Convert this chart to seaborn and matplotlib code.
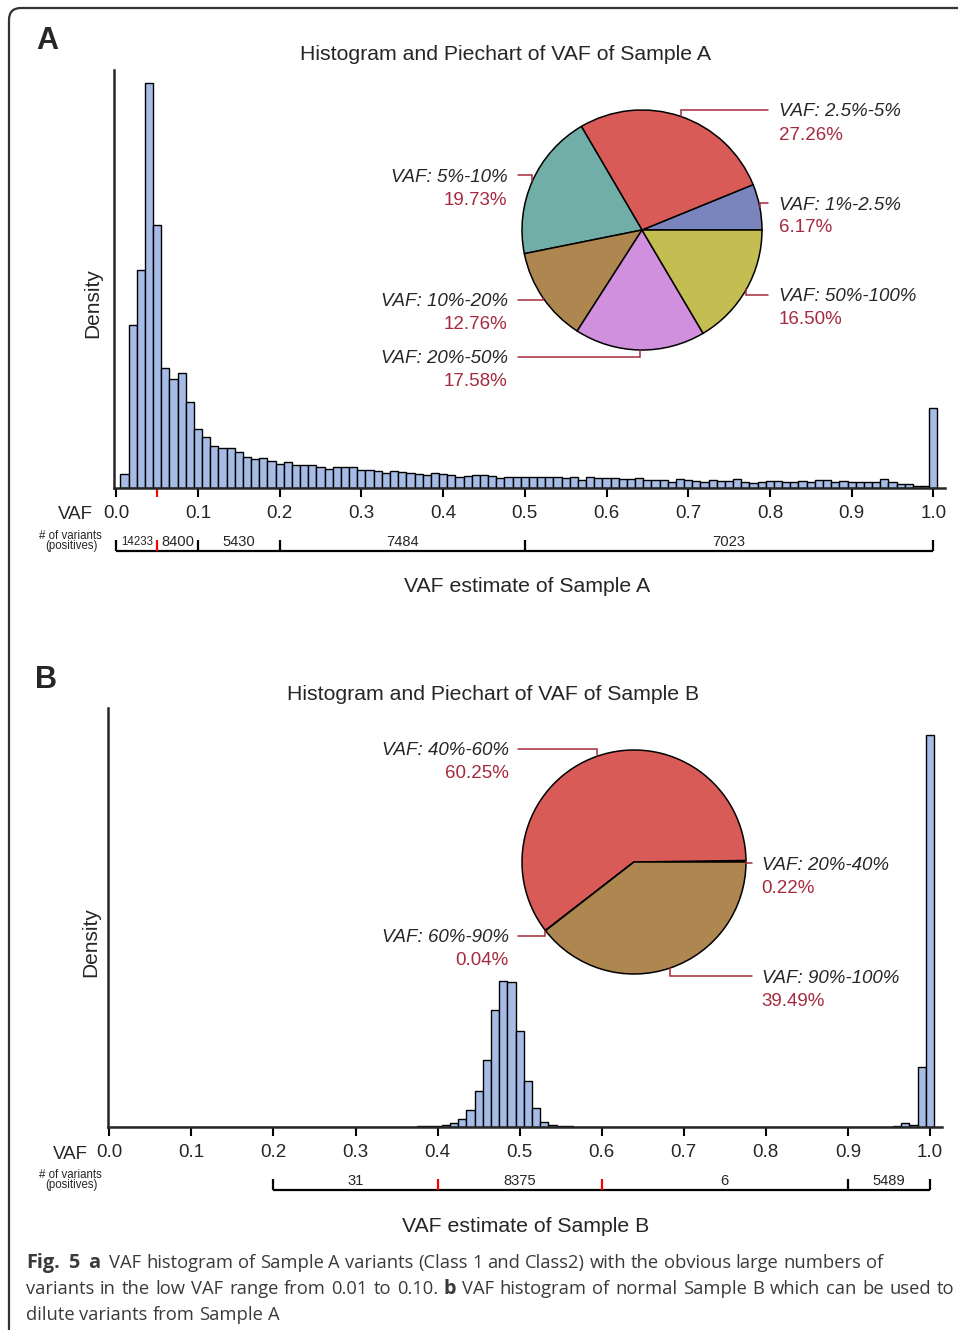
import numpy as np
import pandas as pd
import matplotlib
matplotlib.use("Agg")
import matplotlib.pyplot as plt
import seaborn as sns
from matplotlib.patches import FancyBboxPatch
from matplotlib.transforms import IdentityTransform

W, H = 958, 1330

# Sample A: density per 0.01 VAF bin, bin centres 0.01 ... 1.00
vaf_a = np.round(np.arange(1, 101) / 100, 2)
dens_a = [0.48, 5.81, 7.79, 14.46, 9.37, 4.28, 3.87, 4.09, 3.05, 2.10,
          1.80, 1.50, 1.43, 1.41, 1.29, 1.11, 1.04, 1.07, 0.95, 0.85,
          0.91, 0.81, 0.81, 0.81, 0.73, 0.68, 0.75, 0.75, 0.73, 0.63,
          0.63, 0.61, 0.51, 0.61, 0.57, 0.54, 0.48, 0.45, 0.51, 0.48,
          0.45, 0.39, 0.42, 0.45, 0.45, 0.42, 0.34, 0.37, 0.39, 0.37,
          0.37, 0.39, 0.37, 0.39, 0.34, 0.39, 0.28, 0.37, 0.36, 0.36,
          0.34, 0.32, 0.30, 0.36, 0.28, 0.28, 0.28, 0.21, 0.31, 0.28,
          0.24, 0.21, 0.28, 0.25, 0.25, 0.30, 0.21, 0.18, 0.21, 0.25,
          0.24, 0.21, 0.21, 0.25, 0.21, 0.28, 0.28, 0.19, 0.24, 0.21,
          0.19, 0.19, 0.21, 0.30, 0.19, 0.13, 0.12, 0.06, 0.06, 2.86]

# Sample B: only bins that hold variants
vaf_b = [0.38, 0.39, 0.40, 0.41, 0.42, 0.43, 0.44, 0.45, 0.46, 0.47,
         0.48, 0.49, 0.50, 0.51, 0.52, 0.53, 0.54, 0.55, 0.56,
         0.96, 0.97, 0.98, 0.99, 1.00]
dens_b = [0.03, 0.04, 0.09, 0.17, 0.32, 0.69, 1.46, 3.06, 5.72, 10.01,
          12.46, 12.38, 8.21, 3.95, 1.60, 0.43, 0.12, 0.04, 0.02,
          0.04, 0.29, 0.15, 5.15, 33.62]

# number of variants between brackets
breaks_a = [0.0, 0.05, 0.1, 0.2, 0.5, 1.0]
counts_a = ["14233", "8400", "5430", "7484", "7023"]
red_a = [0.05]
breaks_b = [0.2, 0.4, 0.6, 0.9, 1.0]
counts_b = ["31", "8375", "6", "5489"]
red_b = [0.4, 0.6]

# pie charts
pie_lab_a = ["VAF: 1%-2.5%", "VAF: 2.5%-5%", "VAF: 5%-10%",
             "VAF: 10%-20%", "VAF: 20%-50%", "VAF: 50%-100%"]
pie_pct_a = [6.17, 27.26, 19.73, 12.76, 17.58, 16.50]
pie_col_a = ["#7a84bd", "#d95b58", "#72aea8", "#ae8650", "#d190de", "#c4bd52"]
pie_lab_b = ["VAF: 20%-40%", "VAF: 40%-60%", "VAF: 60%-90%", "VAF: 90%-100%"]
pie_pct_b = [0.22, 60.25, 0.04, 39.49]
pie_col_b = ["#7a84bd", "#d95b58", "#72aea8", "#ae8650"]

# label placement (pie radius units) and side
lab_y_a = [0.225, 1.0, 0.458, -0.583, -1.058, -0.54]
side_a = [1, 1, -1, -1, -1, 1]
lab_y_b = [-0.01, 1.009, -0.66, -1.018]
side_b = [1, -1, -1, 1]

caption = [
    [("Fig.", "bold"), ("5", "bold"), ("a", "bold"), ("VAF", "normal"), ("histogram", "normal"),
     ("of", "normal"), ("Sample", "normal"), ("A", "normal"), ("variants", "normal"),
     ("(Class", "normal"), ("1", "normal"), ("and", "normal"), ("Class2)", "normal"),
     ("with", "normal"), ("the", "normal"), ("obvious", "normal"), ("large", "normal"),
     ("numbers", "normal"), ("of", "normal")],
    [("variants", "normal"), ("in", "normal"), ("the", "normal"), ("low", "normal"),
     ("VAF", "normal"), ("range", "normal"), ("from", "normal"), ("0.01", "normal"),
     ("to", "normal"), ("0.10.", "normal"), ("b", "bold"), ("VAF", "normal"),
     ("histogram", "normal"), ("of", "normal"), ("normal", "normal"), ("Sample", "normal"),
     ("B", "normal"), ("which", "normal"), ("can", "normal"), ("be", "normal"),
     ("used", "normal"), ("to", "normal")],
    [("dilute", "normal"), ("variants", "normal"), ("from", "normal"), ("Sample", "normal"),
     ("A", "normal")],
]

sns.set_style("ticks")
plt.rcParams["font.family"] = ["Liberation Sans", "DejaVu Sans"]

BAR = "#a6bce6"
DARKRED = "#a52a3d"

fig = plt.figure(figsize=(W / 100, H / 100), dpi=100)


def px_rect(x0, y0, x1, y1):
    return [x0 / W, 1 - y1 / H, (x1 - x0) / W, (y1 - y0) / H]


def ftext(x, y, s, **kw):
    return fig.text(x / W, 1 - y / H, s, **kw)


def hist_panel(rect, vaf, dens, xlim, ylim, red_major, red_minor):
    ax = fig.add_axes(rect)
    df = pd.DataFrame({"vaf": vaf, "density": dens})
    sns.histplot(data=df, x="vaf", weights="density", binwidth=0.01,
                 binrange=(0.005, 1.005), ax=ax, color=BAR,
                 edgecolor="black", linewidth=1.0, alpha=1)
    ax.set_xlim(*xlim)
    ax.set_ylim(*ylim)
    ax.set_xlabel("")
    ax.set_ylabel("")
    ax.set_yticks([])
    ticks = np.round(np.arange(0, 1.01, 0.1), 1)
    ax.set_xticks(ticks, [f"{t:.1f}" for t in ticks])
    ax.tick_params(axis="x", length=6.5, width=1.5, pad=6, labelsize=13.5, color="black")
    for tk, loc in zip(ax.xaxis.get_major_ticks(), ticks):
        if any(abs(loc - r) < 1e-6 for r in red_major):
            tk.tick1line.set_color("red")
    if red_minor:
        ax.set_xticks(red_minor, minor=True)
        ax.tick_params(axis="x", which="minor", length=6.5, width=1.5, color="red")
    sns.despine(ax=ax)
    ax.spines["left"].set_linewidth(1.8)
    ax.spines["bottom"].set_linewidth(1.8)
    ax.patch.set_alpha(0)
    return ax


def bracket(ax_h, rect, breaks, counts, reds, first_small):
    ax = fig.add_axes(rect)
    ax.set_xlim(ax_h.get_xlim())
    ax.set_ylim(0, 1)
    ax.axis("off")
    ax.hlines(0.177, breaks[0], breaks[-1], color="black", lw=1.6)
    for b in breaks:
        ax.vlines(b, 0.177, 0.533, color="red" if b in reds else "black", lw=1.6)
    for i, n in enumerate(counts):
        mid = (breaks[i] + breaks[i + 1]) / 2
        if first_small and i == 0:
            ax.text(mid, 0.367, n, ha="center", va="baseline", fontsize=8.3)
        else:
            ax.text(mid, 0.333, n, ha="center", va="baseline", fontsize=10.6)


def pie_panel(cx, cy, r, pct, cols, labels, lab_y, sides):
    m = 1.05
    ax = fig.add_axes(px_rect(cx - r * m, cy - r * m, cx + r * m, cy + r * m))
    wedges, _ = ax.pie(pct, colors=cols, startangle=0, counterclock=True,
                       wedgeprops=dict(edgecolor="black", linewidth=1.1))
    ax.set_xlim(-m, m)
    ax.set_ylim(-m, m)
    ax.axis("off")
    base = 6.5 / r
    gap = 23 / r
    for w, lab, p, ly, sd in zip(wedges, labels, pct, lab_y, sides):
        mid = np.deg2rad((w.theta1 + w.theta2) / 2)
        ex, ey = np.cos(mid), np.sin(mid)
        xend = 1.05 if sd > 0 else -1.035
        ax.plot([ex, ex, xend], [ey, ly, ly], color=DARKRED, lw=1.1,
                clip_on=False, solid_joinstyle="miter")
        tx = 1.14 if sd > 0 else -1.12
        ha = "left" if sd > 0 else "right"
        ax.text(tx, ly - base, lab, ha=ha, va="baseline", fontsize=13.5,
                style="italic", clip_on=False)
        ax.text(tx, ly - base - gap, f"{p:.2f}%", ha=ha, va="baseline",
                fontsize=13.5, color=DARKRED, clip_on=False)


# ---- panel A ----
ax_a = hist_panel(px_rect(114, 70, 945, 487.7), vaf_a, dens_a,
                  ((114 - 116.3) / 817, (945 - 116.3) / 817), (0, 14.92), [], red_a)
bracket(ax_a, px_rect(114, 526, 945, 556), breaks_a, counts_a, red_a, True)
pie_panel(642, 230, 120, pie_pct_a, pie_col_a, pie_lab_a, lab_y_a, side_a)

ftext(47, 49.3, "A", fontsize=22, weight="bold", ha="center", va="baseline")
ftext(505.5, 60.5, "Histogram and Piechart of VAF of Sample A", fontsize=15.3,
      ha="center", va="baseline")
ftext(93, 303, "Density", fontsize=15, rotation=90, ha="center", va="center")
ftext(75, 519.3, "VAF", fontsize=13.5, ha="center", va="baseline")
ftext(70, 538.5, "# of variants", fontsize=8.3, ha="center", va="baseline")
ftext(71, 549, "(positives)", fontsize=8.3, ha="center", va="baseline")
ftext(527, 592.5, "VAF estimate of Sample A", fontsize=15.3, ha="center", va="baseline")

# ---- panel B ----
ax_b = hist_panel(px_rect(108, 708, 942, 1126.7), vaf_b, dens_b,
                  ((108 - 109.3) / 820.7, (942 - 109.3) / 820.7), (0, 35.9), red_b, [])
bracket(ax_b, px_rect(108, 1165.3, 942, 1195.3), breaks_b, counts_b, red_b, False)
pie_panel(634, 862, 112, pie_pct_b, pie_col_b, pie_lab_b, lab_y_b, side_b)

ftext(46, 688, "B", fontsize=22, weight="bold", ha="center", va="baseline")
ftext(493.5, 699.5, "Histogram and Piechart of VAF of Sample B", fontsize=15.3,
      ha="center", va="baseline")
ftext(91, 942, "Density", fontsize=15, rotation=90, ha="center", va="center")
ftext(70, 1159.3, "VAF", fontsize=13.5, ha="center", va="baseline")
ftext(70, 1177.5, "# of variants", fontsize=8.3, ha="center", va="baseline")
ftext(71, 1188, "(positives)", fontsize=8.3, ha="center", va="baseline")
ftext(525.5, 1231.5, "VAF estimate of Sample B", fontsize=15.3, ha="center", va="baseline")

# ---- frame ----
frame = FancyBboxPatch((9, -60), 1100, H - 8 + 60, boxstyle="round,pad=0,rounding_size=12",
                       transform=IdentityTransform(), fill=False, ec="#333333", lw=1.6)
fig.add_artist(frame)

# ---- caption ----
CAP = ["Open Sans", "DejaVu Sans"]
CAP_SIZE = 13.2
BOLD_SIZE = 14.3
BOLD_EXTRA = 4
rend = fig.canvas.get_renderer()


def text_w(s, weight):
    size = BOLD_SIZE if weight == "bold" else CAP_SIZE
    t = fig.text(0, 0, s, fontsize=size, family=CAP, weight=weight)
    w = t.get_window_extent(rend).width
    t.remove()
    return w


space = text_w("a a", "normal") - text_w("aa", "normal")
cap_base = [1268, 1294, 1320]
cap_right = [None, 954, None]
for words, yb, right in zip(caption, cap_base, cap_right):
    widths = [text_w(wd, wt) for wd, wt in words]
    gapw = space
    if right is not None:
        gapw = (right - 26 - sum(widths)) / (len(words) - 1)
    x = 26
    for (wd, wt), wdt in zip(words, widths):
        size = BOLD_SIZE if wt == "bold" else CAP_SIZE
        ftext(x, yb, wd, fontsize=size, family=CAP, weight=wt,
              color="#3a3a3a", ha="left", va="baseline")
        x += wdt + gapw
        if wt == "bold" and right is None:
            x += BOLD_EXTRA

fig.savefig("out.png", dpi=100)
